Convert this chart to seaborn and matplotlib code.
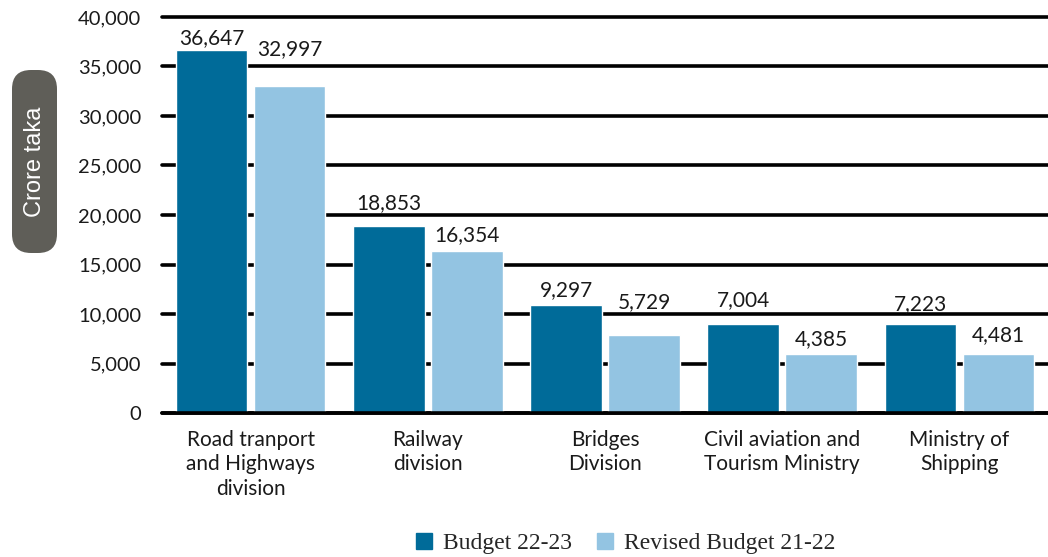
import matplotlib
matplotlib.use("Agg")
import matplotlib.pyplot as plt
import seaborn as sns
import pandas as pd
from matplotlib.patches import FancyBboxPatch
from matplotlib.ticker import FuncFormatter
from matplotlib.transforms import IdentityTransform

# values
categories = [
    "Road tranport\nand Highways\ndivision",
    "Railway\ndivision",
    "Bridges\nDivision",
    "Civil aviation and\nTourism Ministry",
    "Ministry of\nShipping",
]
series_names = ["Budget 22-23", "Revised Budget 21-22"]
# bar heights as drawn in the chart
budget_22_23 = [36647, 18853, 10900, 9000, 9000]
revised_21_22 = [32997, 16354, 7900, 6000, 6000]
# value labels as printed above the bars
budget_labels = ["36,647", "18,853", "9,297", "7,004", "7,223"]
revised_labels = ["32,997", "16,354", "5,729", "4,385", "4,481"]
y_ticks = list(range(0, 40001, 5000))

colors = ["#006b99", "#93c4e2"]
# label offsets above each bar (pixels), so labels sit clear of the gridlines
budget_label_gap = [2.5, 13, 4.5, 13.5, 9.5]
revised_label_gap = [27.5, 6.5, 22.5, 4.5, 8.5]

df = pd.DataFrame({
    "category": categories * 2,
    "series": [series_names[0]] * 5 + [series_names[1]] * 5,
    "value": budget_22_23 + revised_21_22,
})

sns.set_style("white")
plt.rcParams["font.family"] = ["Lato", "DejaVu Sans"]

W, H = 1048, 557
fig = plt.figure(figsize=(W / 100, H / 100), dpi=100)
ax = fig.add_axes([162 / W, 1 - 413 / H, 886 / W, (413 - 17) / H])

sns.barplot(data=df, x="category", y="value", hue="series", palette=colors,
            width=0.88, gap=0.08, saturation=1, ax=ax, legend=False, zorder=3)

ax.set_xlim(-0.5, 4.5)
ax.set_ylim(0, 40000)
ax.set_yticks(y_ticks)
ax.yaxis.set_major_formatter(FuncFormatter(lambda v, p: f"{int(v):,}"))
ax.grid(axis="y", color="black", linewidth=2.6, zorder=1)
ax.grid(axis="x", visible=False)
for gl in ax.get_ygridlines():
    gl.set_clip_on(False)
ax.axhline(0, color="black", linewidth=2.6, clip_on=False, zorder=4)
for s in ax.spines.values():
    s.set_visible(False)
ax.tick_params(axis="y", length=0, pad=15, labelsize=14.5, labelcolor="#1a1a1a")
ax.tick_params(axis="x", length=0, pad=12, labelsize=15, labelcolor="#1a1a1a")
ax.set_xlabel("")
ax.set_ylabel("")
for lbl in ax.get_xticklabels():
    lbl.set_linespacing(1.3)
    lbl.set_verticalalignment("top")

# value labels
for cont, labels, gaps in zip(ax.containers, [budget_labels, revised_labels],
                              [budget_label_gap, revised_label_gap]):
    for bar, text, gap in zip(cont, labels, gaps):
        ax.annotate(text, (bar.get_x() + bar.get_width() / 2, bar.get_height()),
                    xytext=(0, gap * 0.72), textcoords="offset points",
                    ha="center", va="bottom", fontsize=15, color="#1a1a1a",
                    zorder=5)

# y-axis title in a rounded grey box (pixel coordinates, origin bottom-left)
box = FancyBboxPatch((12, H - 253), 45, 183,
                     boxstyle="round,pad=0,rounding_size=19",
                     transform=IdentityTransform(), facecolor="#5f5e58",
                     edgecolor="none")
fig.patches.append(box)
fig.text(35 / W, 1 - 162 / H, "Crore taka", rotation=90,
         ha="center", va="center", color="white", fontsize=17,
         family=["Liberation Sans", "DejaVu Sans"])

# legend at the bottom
handles = [plt.Line2D([], [], marker="s", linestyle="", markersize=11,
                      color=c) for c in colors]
fig.legend(handles, series_names, loc="center", bbox_to_anchor=(624 / W, 1 - 543 / H),
           ncol=2, frameon=False, handletextpad=0.3, columnspacing=0.9,
           handlelength=1.0, prop={"family": "Liberation Serif", "size": 17})

fig.savefig("out.png", dpi=100)
